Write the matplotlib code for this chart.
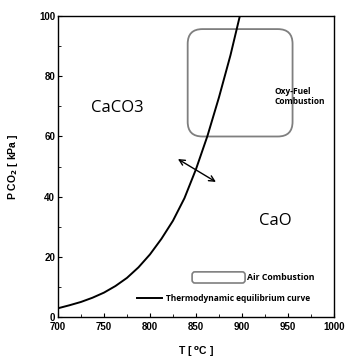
import matplotlib
matplotlib.use("Agg")
import matplotlib.pyplot as plt
from matplotlib.patches import FancyBboxPatch
from matplotlib.ticker import MultipleLocator

# equilibrium curve
temp_c = [700, 712.5, 725, 737.5, 750, 762.5, 775, 787.5, 800, 812.5,
          825, 837.5, 850, 862.5, 875, 887.5, 900]
p_co2 = [2.9, 3.9, 5.0, 6.4, 8.1, 10.3, 13.0, 16.5, 20.8, 26.0,
         32.0, 39.5, 49.1, 60.2, 73.0, 87.0, 103.0]

# oxy-fuel region (T min, T max, P min, P max)
oxy_box = (841, 955, 60, 95.7)
# double arrow end points
arrow_from = (830.4, 52.5)
arrow_to = (871.7, 44.9)

plt.rcParams['font.family'] = ['Liberation Sans', 'DejaVu Sans']

fig = plt.figure(figsize=(3.45, 3.59), dpi=100)
ax = fig.add_axes([0.168, 0.117, 0.80, 0.838])

ax.plot(temp_c, p_co2, color="black", lw=1.4)

# Oxy-fuel rounded box
x0, x1, y0, y1 = oxy_box
box = FancyBboxPatch((x0, y0), x1 - x0, y1 - y0,
                     boxstyle="round,pad=0,rounding_size=16",
                     mutation_aspect=0.306,
                     fc="none", ec="#7f7f7f", lw=1.3)
ax.add_patch(box)

ax.annotate("", xy=arrow_to, xytext=arrow_from,
            arrowprops=dict(arrowstyle="<->", color="black", lw=1.0,
                            shrinkA=0, shrinkB=0))

ax.text(765, 69.4, "CaCO3", fontsize=12, family="Open Sans",
        ha="center", va="center")
ax.text(936, 32, "CaO", fontsize=12, family="Open Sans",
        ha="center", va="center")
ax.text(935.9, 73.2, "Oxy-Fuel\nCombustion", fontsize=6, family="Open Sans",
        fontweight="bold", ha="left", va="center", linespacing=1.2)

# hand-made legend
leg_box = FancyBboxPatch((0.486, 0.113), 0.192, 0.037,
                         boxstyle="round,pad=0,rounding_size=0.01",
                         transform=ax.transAxes,
                         fc="white", ec="#7f7f7f", lw=1.2)
ax.add_patch(leg_box)
ax.text(0.685, 0.132, "Air Combustion", transform=ax.transAxes,
        fontsize=6.3, family="Open Sans", fontweight="bold",
        ha="left", va="center")
ax.plot([0.286, 0.377], [0.063, 0.063], color="black", lw=1.4,
        transform=ax.transAxes)
ax.text(0.391, 0.063, "Thermodynamic equilibrium curve", transform=ax.transAxes,
        fontsize=6.0, family="Open Sans", fontweight="bold",
        ha="left", va="center")

ax.set_xlim(700, 1000)
ax.set_ylim(0, 100)
ax.xaxis.set_major_locator(MultipleLocator(50))
ax.xaxis.set_minor_locator(MultipleLocator(25))
ax.yaxis.set_major_locator(MultipleLocator(20))
ax.yaxis.set_minor_locator(MultipleLocator(10))
ax.tick_params(which="both", direction="in", labelsize=7)
ax.tick_params(axis="x", pad=3.5)
ax.tick_params(axis="y", pad=2)
ax.tick_params(which="major", length=3)
ax.tick_params(which="minor", length=2)
for lab in ax.get_xticklabels() + ax.get_yticklabels():
    lab.set_fontweight("bold")
for s in ax.spines.values():
    s.set_linewidth(1.0)

ax.set_xlabel(r"T [ $^\mathbf{o}$C ]", fontsize=7.5, fontweight="bold",
              labelpad=9)
ax.set_ylabel(r"P CO$_\mathbf{2}$ [ kPa ]", fontsize=7.5, fontweight="bold",
              labelpad=14)

fig.savefig("out.png", dpi=100)
